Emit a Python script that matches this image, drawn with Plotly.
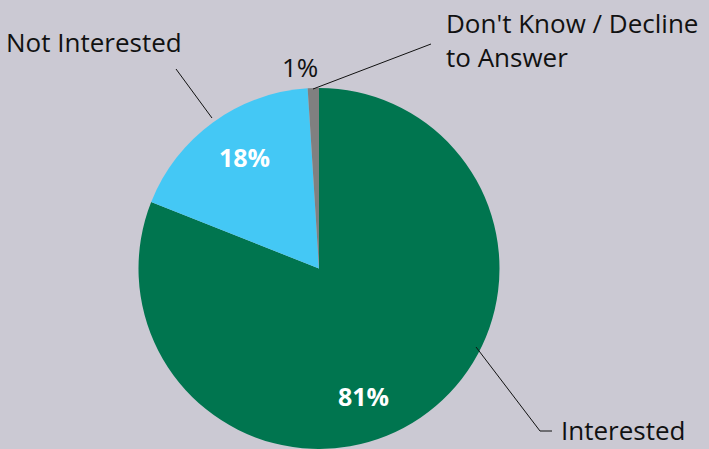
import plotly.graph_objects as go

W, H = 709, 449

categories = ["Interested", "Not Interested", "Don't Know / Decline<br>to Answer"]
values = [81, 18, 1]
pct_labels = ["81%", "18%", "1%"]
colors = ["#00754f", "#44c8f5", "#808080"]
bg = "#cbc9d3"
FONT = "Open Sans"

def px(x):
    return x / W

def py(y):
    return 1 - y / H

fig = go.Figure(go.Pie(
    labels=categories,
    values=values,
    sort=False,
    direction="clockwise",
    rotation=0,
    marker=dict(colors=colors, line=dict(width=0)),
    textinfo="none",
    hoverinfo="label+percent",
    showlegend=False,
    domain=dict(x=[px(138), px(500)], y=[0, py(88)]),
))

# percentage labels
fig.add_annotation(x=px(363), y=py(396), text="<b>" + pct_labels[0] + "</b>", showarrow=False,
                   font=dict(family=FONT, size=25, color="white"), xanchor="center", yanchor="middle")
fig.add_annotation(x=px(244), y=py(157), text="<b>" + pct_labels[1] + "</b>", showarrow=False,
                   font=dict(family=FONT, size=25, color="white"), xanchor="center", yanchor="middle")
fig.add_annotation(x=px(300), y=py(67), text=pct_labels[2], showarrow=False,
                   font=dict(family=FONT, size=26, color="#111111"), xanchor="center", yanchor="middle")

# category labels
fig.add_annotation(x=px(4), y=py(42), text="Not Interested", showarrow=False,
                   font=dict(family=FONT, size=26, color="#111111"), xanchor="left", yanchor="middle")
fig.add_annotation(x=px(444), y=py(40), text=categories[2], showarrow=False, align="left",
                   font=dict(family=FONT, size=26, color="#111111"), xanchor="left", yanchor="middle")
fig.add_annotation(x=px(559), y=py(430), text=categories[0], showarrow=False,
                   font=dict(family=FONT, size=26, color="#111111"), xanchor="left", yanchor="middle")

line = dict(color="#111111", width=1)
shapes = [
    dict(type="line", xref="paper", yref="paper", x0=px(176), y0=py(69), x1=px(212), y1=py(118), line=line),
    dict(type="line", xref="paper", yref="paper", x0=px(313), y0=py(89), x1=px(431), y1=py(44), line=line),
    dict(type="line", xref="paper", yref="paper", x0=px(476), y0=py(347), x1=px(540), y1=py(431), line=line),
    dict(type="line", xref="paper", yref="paper", x0=px(540), y0=py(431), x1=px(552), y1=py(431), line=line),
]

fig.update_layout(
    width=W, height=H,
    margin=dict(l=0, r=0, t=0, b=0),
    paper_bgcolor=bg, plot_bgcolor=bg,
    shapes=shapes,
)

fig.write_html("out.html", config={"displayModeBar": False},
               post_script="document.body.style.margin='0';document.body.style.background='%s';" % bg)
